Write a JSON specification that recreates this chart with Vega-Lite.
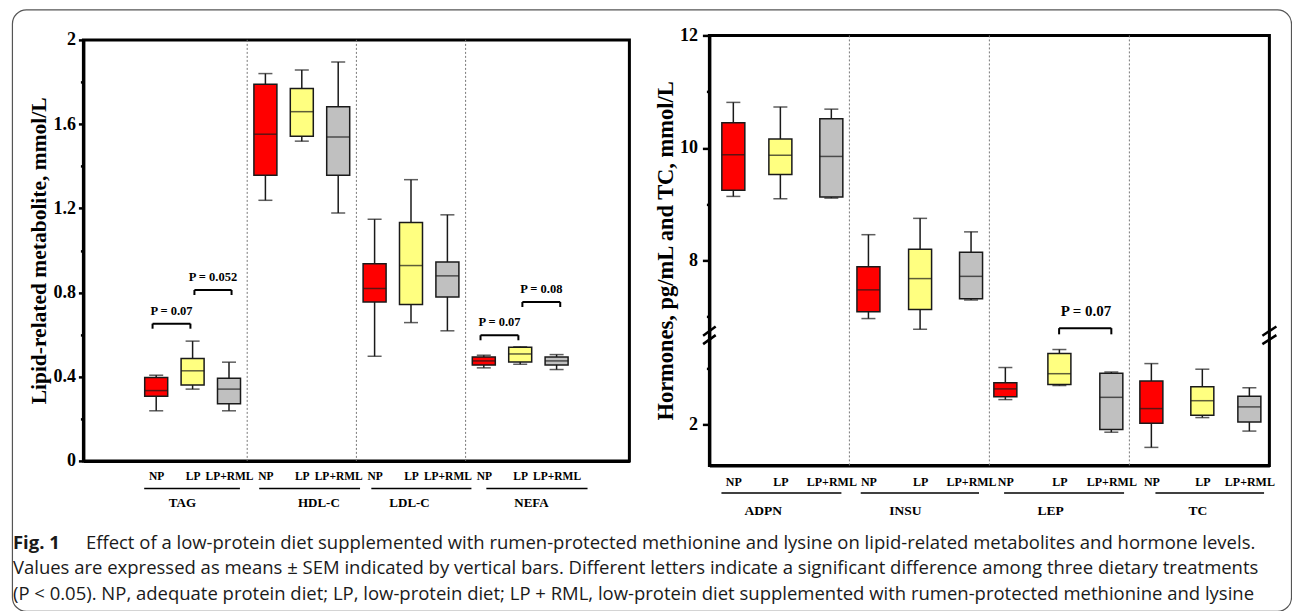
{
  "$schema": "https://vega.github.io/schema/vega-lite/v6.json",
  "background": "white",
  "padding": {"left": 9.4, "top": 7.4, "right": 2, "bottom": 0},
  "config": {
    "view": {"stroke": "black", "strokeWidth": 3},
    "axis": {"domainColor": "black", "domainWidth": 3, "tickColor": "black", "tickWidth": 2.5, "labelColor": "black", "titleColor": "black", "grid": false, "labelFont": "Liberation Serif", "titleFont": "Liberation Serif", "labelFontWeight": "bold", "titleFontWeight": "bold"},
    "text": {"font": "Liberation Serif"}
  },
  "datasets": {
    "leftBoxes": [
      {"g": "TAG", "grp": "NP", "x": 2, "min": 0.238, "q1": 0.307, "med": 0.334, "q3": 0.396, "max": 0.407},
      {"g": "TAG", "grp": "LP", "x": 3, "min": 0.341, "q1": 0.36, "med": 0.428, "q3": 0.486, "max": 0.569},
      {"g": "TAG", "grp": "LP+RML", "x": 4, "min": 0.238, "q1": 0.272, "med": 0.341, "q3": 0.393, "max": 0.469},
      {"g": "HDL-C", "grp": "NP", "x": 5, "min": 1.238, "q1": 1.357, "med": 1.552, "q3": 1.789, "max": 1.84},
      {"g": "HDL-C", "grp": "LP", "x": 6, "min": 1.519, "q1": 1.542, "med": 1.659, "q3": 1.769, "max": 1.857},
      {"g": "HDL-C", "grp": "LP+RML", "x": 7, "min": 1.178, "q1": 1.357, "med": 1.539, "q3": 1.682, "max": 1.895},
      {"g": "LDL-C", "grp": "NP", "x": 8, "min": 0.497, "q1": 0.755, "med": 0.819, "q3": 0.936, "max": 1.148},
      {"g": "LDL-C", "grp": "LP", "x": 9, "min": 0.657, "q1": 0.743, "med": 0.928, "q3": 1.132, "max": 1.336},
      {"g": "LDL-C", "grp": "LP+RML", "x": 10, "min": 0.618, "q1": 0.779, "med": 0.879, "q3": 0.945, "max": 1.169},
      {"g": "NEFA", "grp": "NP", "x": 11, "min": 0.442, "q1": 0.455, "med": 0.475, "q3": 0.494, "max": 0.502},
      {"g": "NEFA", "grp": "LP", "x": 12, "min": 0.459, "q1": 0.47, "med": 0.508, "q3": 0.54, "max": 0.542},
      {"g": "NEFA", "grp": "LP+RML", "x": 13, "min": 0.434, "q1": 0.456, "med": 0.475, "q3": 0.494, "max": 0.505}
    ],
    "rightBoxes": [
      {"g": "ADPN", "grp": "NP", "x": 0.171, "min": 9.14, "q1": 9.25, "med": 9.88, "q3": 10.45, "max": 10.81},
      {"g": "ADPN", "grp": "LP", "x": 0.507, "min": 9.1, "q1": 9.53, "med": 9.87, "q3": 10.16, "max": 10.73},
      {"g": "ADPN", "grp": "LP+RML", "x": 0.871, "min": 9.11, "q1": 9.13, "med": 9.85, "q3": 10.52, "max": 10.69},
      {"g": "INSU", "grp": "NP", "x": 1.136, "min": 6.97, "q1": 7.09, "med": 7.48, "q3": 7.89, "max": 8.46},
      {"g": "INSU", "grp": "LP", "x": 1.505, "min": 6.78, "q1": 7.13, "med": 7.68, "q3": 8.2, "max": 8.75},
      {"g": "INSU", "grp": "LP+RML", "x": 1.869, "min": 7.3, "q1": 7.32, "med": 7.72, "q3": 8.15, "max": 8.51},
      {"g": "LEP", "grp": "NP", "x": 2.114, "min": 2.44, "q1": 2.49, "med": 2.63, "q3": 2.74, "max": 3.01},
      {"g": "LEP", "grp": "LP", "x": 2.5, "min": 2.69, "q1": 2.71, "med": 2.9, "q3": 3.26, "max": 3.33},
      {"g": "LEP", "grp": "LP+RML", "x": 2.871, "min": 1.86, "q1": 1.91, "med": 2.48, "q3": 2.91, "max": 2.93},
      {"g": "TC", "grp": "NP", "x": 3.157, "min": 1.59, "q1": 2.02, "med": 2.28, "q3": 2.77, "max": 3.08},
      {"g": "TC", "grp": "LP", "x": 3.521, "min": 2.12, "q1": 2.16, "med": 2.42, "q3": 2.67, "max": 2.98},
      {"g": "TC", "grp": "LP+RML", "x": 3.857, "min": 1.88, "q1": 2.04, "med": 2.31, "q3": 2.5, "max": 2.65}
    ],
    "leftBr": [
      {"x1": 1.9, "x2": 2.94, "xm": 2.42, "y": 0.652, "yLeg": 0.628, "label": "P = 0.07"},
      {"x1": 3.05, "x2": 4.07, "xm": 3.56, "y": 0.812, "yLeg": 0.788, "label": "P = 0.052"},
      {"x1": 10.91, "x2": 11.95, "xm": 11.43, "y": 0.597, "yLeg": 0.573, "label": "P = 0.07"},
      {"x1": 12.06, "x2": 13.1, "xm": 12.58, "y": 0.755, "yLeg": 0.731, "label": "P = 0.08"}
    ],
    "rightBr": [
      {"x1": 2.498, "x2": 2.871, "xm": 2.69, "y": 6.8, "yLeg": 6.69, "label": "P = 0.07"}
    ],
    "leftGroups": [
      {"g": "TAG", "mid": 2.72, "lo": 1.67, "hi": 4.3},
      {"g": "HDL-C", "mid": 6.47, "lo": 4.83, "hi": 7.6},
      {"g": "LDL-C", "mid": 8.96, "lo": 7.91, "hi": 10.66},
      {"g": "NEFA", "mid": 12.31, "lo": 11.07, "hi": 13.85}
    ],
    "rightGroups": [
      {"g": "ADPN", "mid": 0.384, "lo": 0.086, "hi": 0.943},
      {"g": "INSU", "mid": 1.4, "lo": 1.081, "hi": 1.926},
      {"g": "LEP", "mid": 2.438, "lo": 2.105, "hi": 2.962},
      {"g": "TC", "mid": 3.489, "lo": 3.186, "hi": 3.962}
    ],
    "breaks": [
      {"x": -0.045, "x2": 0.045, "y": 3.576, "y2": 6.83},
      {"x": -0.045, "x2": 0.045, "y": 3.426, "y2": 3.586},
      {"x": 3.95, "x2": 4.05, "y": 3.576, "y2": 6.83},
      {"x": 3.95, "x2": 4.05, "y": 3.426, "y2": 3.586}
    ]
  },
  "title": {"text": "Fig. 1", "orient": "bottom", "anchor": "start", "font": "Open Sans", "fontSize": 18.5, "fontWeight": "bold", "color": "#1a1a1a", "offset": -79.6, "dx": 2.6},
  "vconcat": [
    {
      "title": {"text": "Effect of a low-protein diet supplemented with rumen-protected methionine and lysine on lipid-related metabolites and hormone levels.", "orient": "bottom", "anchor": "start", "font": "Open Sans", "fontSize": 18.5, "fontWeight": "normal", "color": "#1a1a1a", "offset": -79.6, "dx": 75.6},
      "vconcat": [
        {
          "title": {
            "text": [
              "Values are expressed as means ± SEM indicated by vertical bars. Different letters indicate a significant difference among three dietary treatments",
              "(P < 0.05). NP, adequate protein diet; LP, low-protein diet; LP + RML, low-protein diet supplemented with rumen-protected methionine and lysine"
            ],
            "orient": "bottom", "anchor": "start", "font": "Open Sans", "fontSize": 18.5, "fontWeight": "normal", "color": "#1a1a1a", "lineHeight": 25.5, "offset": -54.1, "dx": 2.6
          },
          "hconcat": [
            {
              "width": 546,
              "height": 421,
              "layer": [
                {
                  "data": {"name": "leftBoxes"},
                  "mark": {"type": "rule", "color": "#1a1a1a", "strokeWidth": 1.5},
                  "encoding": {
                    "x": {"field": "x", "type": "quantitative", "scale": {"domain": [0, 15], "padding": 0, "nice": false, "zero": false},
                      "axis": {"title": null, "values": [2, 3, 4, 5, 6, 7, 8, 9, 10, 11, 12, 13], "labelExpr": "['NP','LP','LP+RML'][(datum.value + 1) % 3]", "ticks": false, "labelPadding": 10, "labelFontSize": 11.5, "labelOverlap": false, "labelFlush": false}},
                    "y": {"field": "min", "type": "quantitative", "scale": {"domain": [0, 2], "padding": 0, "nice": false},
                      "axis": {"title": "Lipid-related metabolite, mmol/L", "values": [0, 0.2, 0.4, 0.6, 0.8, 1, 1.2, 1.4, 1.6, 1.8, 2], "labelExpr": "indexof([0, 0.4, 0.8, 1.2, 1.6, 2], datum.value) >= 0 ? '' + datum.value : ''", "tickSize": {"condition": {"test": "indexof([0.2, 0.6, 1, 1.4, 1.8], datum.value) >= 0", "value": 3}, "value": 5}, "labelPadding": 3, "labelFontSize": 18, "titleFontSize": 21.5, "titlePadding": 2}},
                    "y2": {"field": "max"}
                  }
                },
                {
                  "data": {"values": [{"frame": "figure"}]},
                  "mark": {"type": "rect", "filled": false, "stroke": "#555555", "strokeWidth": 1.2, "cornerRadius": 14},
                  "encoding": {"x": {"datum": -1.95, "type": "quantitative"}, "x2": {"datum": 33.19}, "y": {"datum": 2.1425, "type": "quantitative"}, "y2": {"datum": -0.715}}
                },
                {
                  "data": {"values": [{"s": 4.5}, {"s": 7.5}, {"s": 10.5}]},
                  "mark": {"type": "rule", "color": "#777777", "strokeWidth": 1, "strokeDash": [2, 2]},
                  "encoding": {"x": {"field": "s", "type": "quantitative"}}
                },
                {
                  "data": {"name": "leftBoxes"},
                  "mark": {"type": "tick", "orient": "horizontal", "size": 14, "thickness": 1.5, "color": "#1a1a1a"},
                  "encoding": {"x": {"field": "x", "type": "quantitative"}, "y": {"field": "min", "type": "quantitative"}}
                },
                {
                  "data": {"name": "leftBoxes"},
                  "mark": {"type": "tick", "orient": "horizontal", "size": 14, "thickness": 1.5, "color": "#1a1a1a"},
                  "encoding": {"x": {"field": "x", "type": "quantitative"}, "y": {"field": "max", "type": "quantitative"}}
                },
                {
                  "data": {"name": "leftBoxes"},
                  "mark": {"type": "bar", "size": 23, "stroke": "#1a1a1a", "strokeWidth": 1.5},
                  "encoding": {
                    "x": {"field": "x", "type": "quantitative"},
                    "y": {"field": "q1", "type": "quantitative"},
                    "y2": {"field": "q3"},
                    "color": {"field": "grp", "type": "nominal", "scale": {"domain": ["NP", "LP", "LP+RML"], "range": ["#ff0000", "#ffff80", "#c0c0c0"]}, "legend": null}
                  }
                },
                {
                  "data": {"name": "leftBoxes"},
                  "mark": {"type": "tick", "orient": "horizontal", "size": 23, "thickness": 1.5, "color": "#1a1a1a"},
                  "encoding": {"x": {"field": "x", "type": "quantitative"}, "y": {"field": "med", "type": "quantitative"}}
                },
                {
                  "data": {"name": "leftBr"},
                  "mark": {"type": "rule", "color": "black", "strokeWidth": 2},
                  "encoding": {"x": {"field": "x1", "type": "quantitative"}, "x2": {"field": "x2"}, "y": {"field": "y", "type": "quantitative"}}
                },
                {
                  "data": {"name": "leftBr"},
                  "mark": {"type": "rule", "color": "black", "strokeWidth": 2},
                  "encoding": {"x": {"field": "x1", "type": "quantitative"}, "y": {"field": "y", "type": "quantitative"}, "y2": {"field": "yLeg"}}
                },
                {
                  "data": {"name": "leftBr"},
                  "mark": {"type": "rule", "color": "black", "strokeWidth": 2},
                  "encoding": {"x": {"field": "x2", "type": "quantitative"}, "y": {"field": "y", "type": "quantitative"}, "y2": {"field": "yLeg"}}
                },
                {
                  "data": {"name": "leftBr"},
                  "mark": {"type": "text", "fontSize": 12.5, "fontWeight": "bold", "dy": -9, "baseline": "alphabetic", "color": "black"},
                  "encoding": {"x": {"field": "xm", "type": "quantitative"}, "y": {"field": "y", "type": "quantitative"}, "text": {"field": "label"}}
                },
                {
                  "data": {"name": "leftGroups"},
                  "mark": {"type": "rule", "color": "black", "strokeWidth": 1.5},
                  "encoding": {"x": {"field": "lo", "type": "quantitative"}, "x2": {"field": "hi"}, "y": {"datum": -0.1306, "type": "quantitative"}}
                },
                {
                  "data": {"name": "leftGroups"},
                  "mark": {"type": "text", "fontSize": 13, "fontWeight": "bold", "baseline": "middle", "color": "black"},
                  "encoding": {"x": {"field": "mid", "type": "quantitative"}, "y": {"datum": -0.1995, "type": "quantitative"}, "text": {"field": "g"}}
                }
              ]
            },
            {
              "width": 560,
              "height": 430,
              "layer": [
                {
                  "data": {"name": "rightBoxes"},
                  "mark": {"type": "rule", "color": "#1a1a1a", "strokeWidth": 1.5},
                  "encoding": {
                    "x": {"field": "x", "type": "quantitative", "scale": {"domain": [0, 4], "padding": 0, "nice": false, "zero": false},
                      "axis": {"title": null, "values": [0.171, 0.507, 0.871, 1.136, 1.505, 1.869, 2.114, 2.5, 2.871, 3.157, 3.521, 3.857], "labelExpr": "datum.value % 1 < 0.3 ? 'NP' : (datum.value % 1 < 0.7 ? 'LP' : 'LP+RML')", "ticks": false, "labelPadding": 11, "labelFontSize": 12, "labelOverlap": false, "labelFlush": false}},
                    "y": {"field": "min", "type": "quantitative", "scale": {"domain": [1.27, 3.59, 6.68, 12], "range": [430, 299.5, 299.5, 0], "padding": 0, "nice": false, "zero": false},
                      "axis": {"title": "Hormones, pg/mL and TC, mmol/L", "values": [2, 3, 7, 8, 9, 10, 11, 12], "labelExpr": "indexof([2, 8, 10, 12], datum.value) >= 0 ? '' + datum.value : ''", "tickSize": {"condition": {"test": "indexof([3, 7, 9, 11], datum.value) >= 0", "value": 3}, "value": 7}, "labelPadding": 5, "labelFontSize": 18, "titleFontSize": 22.5, "titlePadding": 2}},
                    "y2": {"field": "max"}
                  }
                },
                {
                  "data": {"values": [{"s": 1}, {"s": 2}, {"s": 3}]},
                  "mark": {"type": "rule", "color": "#777777", "strokeWidth": 1, "strokeDash": [2, 2]},
                  "encoding": {"x": {"field": "s", "type": "quantitative"}}
                },
                {
                  "data": {"name": "rightBoxes"},
                  "mark": {"type": "tick", "orient": "horizontal", "size": 14, "thickness": 1.5, "color": "#1a1a1a"},
                  "encoding": {"x": {"field": "x", "type": "quantitative"}, "y": {"field": "min", "type": "quantitative"}}
                },
                {
                  "data": {"name": "rightBoxes"},
                  "mark": {"type": "tick", "orient": "horizontal", "size": 14, "thickness": 1.5, "color": "#1a1a1a"},
                  "encoding": {"x": {"field": "x", "type": "quantitative"}, "y": {"field": "max", "type": "quantitative"}}
                },
                {
                  "data": {"name": "rightBoxes"},
                  "mark": {"type": "bar", "size": 23, "stroke": "#1a1a1a", "strokeWidth": 1.5},
                  "encoding": {
                    "x": {"field": "x", "type": "quantitative"},
                    "y": {"field": "q1", "type": "quantitative"},
                    "y2": {"field": "q3"},
                    "color": {"field": "grp", "type": "nominal", "scale": {"domain": ["NP", "LP", "LP+RML"], "range": ["#ff0000", "#ffff80", "#c0c0c0"]}, "legend": null}
                  }
                },
                {
                  "data": {"name": "rightBoxes"},
                  "mark": {"type": "tick", "orient": "horizontal", "size": 23, "thickness": 1.5, "color": "#1a1a1a"},
                  "encoding": {"x": {"field": "x", "type": "quantitative"}, "y": {"field": "med", "type": "quantitative"}}
                },
                {
                  "data": {"name": "breaks"},
                  "mark": {"type": "rule", "color": "black", "strokeWidth": 2.5},
                  "encoding": {"x": {"field": "x", "type": "quantitative"}, "x2": {"field": "x2"}, "y": {"field": "y", "type": "quantitative"}, "y2": {"field": "y2"}}
                },
                {
                  "data": {"name": "rightBr"},
                  "mark": {"type": "rule", "color": "black", "strokeWidth": 2},
                  "encoding": {"x": {"field": "x1", "type": "quantitative"}, "x2": {"field": "x2"}, "y": {"field": "y", "type": "quantitative"}}
                },
                {
                  "data": {"name": "rightBr"},
                  "mark": {"type": "rule", "color": "black", "strokeWidth": 2},
                  "encoding": {"x": {"field": "x1", "type": "quantitative"}, "y": {"field": "y", "type": "quantitative"}, "y2": {"field": "yLeg"}}
                },
                {
                  "data": {"name": "rightBr"},
                  "mark": {"type": "rule", "color": "black", "strokeWidth": 2},
                  "encoding": {"x": {"field": "x2", "type": "quantitative"}, "y": {"field": "y", "type": "quantitative"}, "y2": {"field": "yLeg"}}
                },
                {
                  "data": {"name": "rightBr"},
                  "mark": {"type": "text", "fontSize": 15, "fontWeight": "bold", "dy": -12, "baseline": "alphabetic", "color": "black"},
                  "encoding": {"x": {"field": "xm", "type": "quantitative"}, "y": {"field": "y", "type": "quantitative"}, "text": {"field": "label"}}
                },
                {
                  "data": {"name": "rightGroups"},
                  "mark": {"type": "rule", "color": "black", "strokeWidth": 1.5},
                  "encoding": {"x": {"field": "lo", "type": "quantitative"}, "x2": {"field": "hi"}, "y": {"datum": 0.78, "type": "quantitative"}}
                },
                {
                  "data": {"name": "rightGroups"},
                  "mark": {"type": "text", "fontSize": 13.5, "fontWeight": "bold", "baseline": "middle", "color": "black"},
                  "encoding": {"x": {"field": "mid", "type": "quantitative"}, "y": {"datum": 0.46, "type": "quantitative"}, "text": {"field": "g"}}
                }
              ]
            }
          ],
          "spacing": 80,
          "bounds": "flush",
          "center": true
        }
      ]
    }
  ]
}
